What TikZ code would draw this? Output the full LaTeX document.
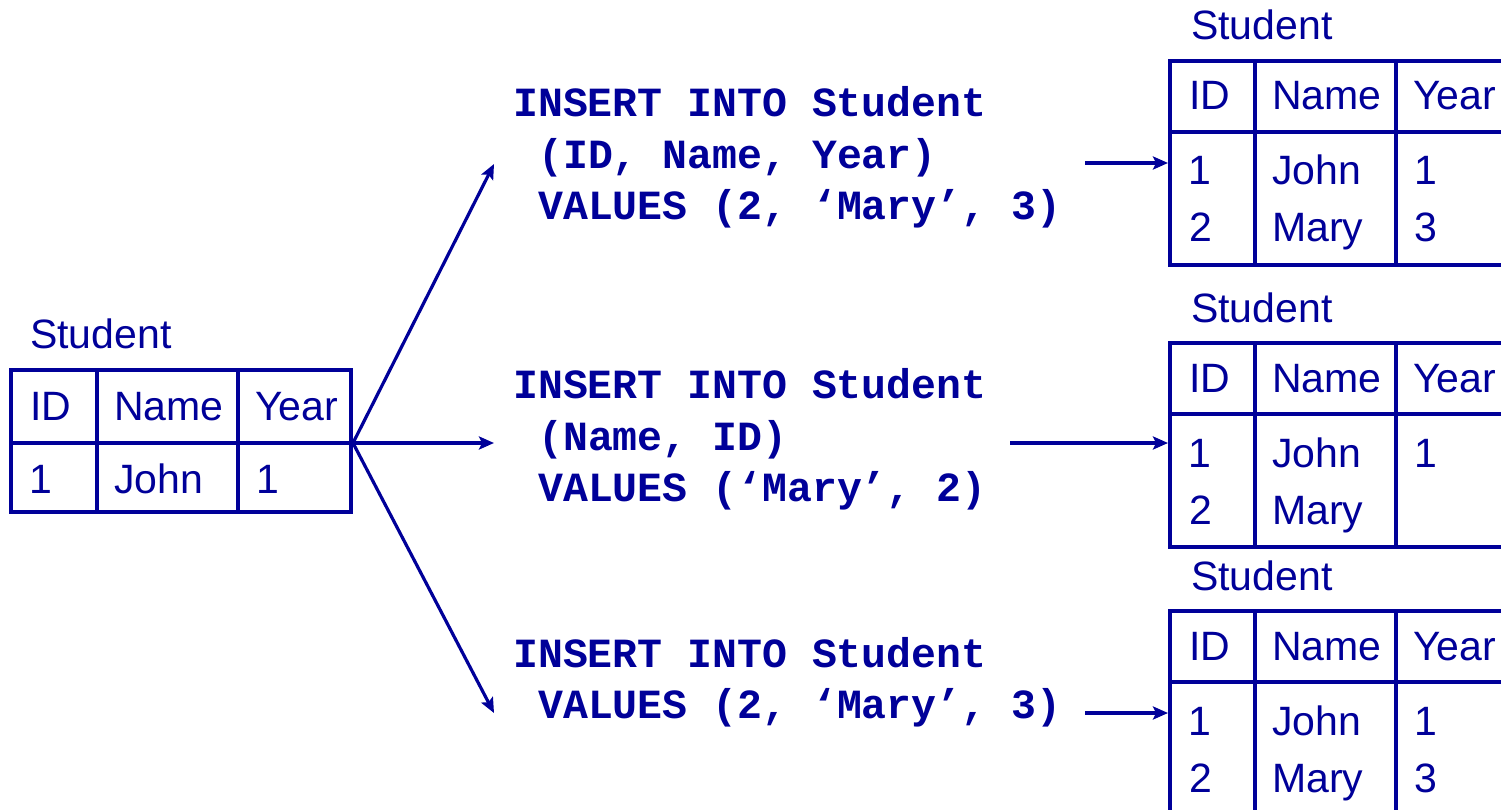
\documentclass[tikz,border=0pt]{standalone}
\usepackage{fontspec}
\usetikzlibrary{arrows.meta}
\newfontfamily\sansf{Liberation Sans}
\newfontfamily\monof{Liberation Mono}
\definecolor{dkblue}{RGB}{0,0,153}
\tikzset{
  tbl/.style={draw=dkblue, line width=4pt, rectangle, inner sep=0pt},
  tline/.style={draw=dkblue, line width=4pt},
  lab/.style={font=\sansf\fontsize{41}{48}\selectfont, text=dkblue, anchor=base west, inner sep=0pt},
  sql/.style={font=\monof\bfseries\fontsize{41.5}{52}\selectfont, text=dkblue, anchor=base west, inner sep=0pt},
  arr/.style={draw=dkblue, line width=3.2pt, -{Stealth[length=15pt,width=13pt,inset=3pt]}},
}
\begin{document}
\begin{tikzpicture}[x=1pt,y=-1pt]
\useasboundingbox[fill=white] (0,0) rectangle (1501,810);
\clip (0,0) rectangle (1501,810);

% ---------- left table ----------
\node[lab] (l0) at (30,348) {Student};
\node[tbl, minimum width=340pt, minimum height=142pt] (t0) at (181,441) {};
\draw[tline] (11,443) -- (351,443);
\draw[tline] (97,370) -- (97,512);
\draw[tline] (238,370) -- (238,512);
\node[lab] (t0h1) at (30,420) {ID};
\node[lab] (t0h2) at (114,420) {Name};
\node[lab] (t0h3) at (255,420) {Year};
\node[lab] (t0r1) at (29,493) {1};
\node[lab] (t0r2) at (114,493) {John};
\node[lab] (t0r3) at (256,493) {1};

% ---------- SQL statements ----------
\node[sql] (s1a) at (513,117) {INSERT INTO Student};
\node[sql] (s1b) at (538,169) {(ID, Name, Year)};
\node[sql] (s1c) at (538,220) {VALUES (2, ‘Mary’, 3)};

\node[sql] (s2a) at (513,398) {INSERT INTO Student};
\node[sql] (s2b) at (538,450) {(Name, ID)};
\node[sql] (s2c) at (538,501) {VALUES (‘Mary’, 2)};

\node[sql] (s3a) at (513,667) {INSERT INTO Student};
\node[sql] (s3b) at (538,718) {VALUES (2, ‘Mary’, 3)};

% ---------- right tables ----------
\foreach \k/\dy in {1/0, 2/282, 3/550} {
  \node[lab] (r\k l) at (1191,40+\dy) {Student};
  \node[tbl, minimum width=345pt, minimum height=204pt] (t\k) at (1342.5,163+\dy) {};
  \draw[tline] (1170,132+\dy) -- (1515,132+\dy);
  \draw[tline] (1255,61+\dy) -- (1255,265+\dy);
  \draw[tline] (1396,61+\dy) -- (1396,265+\dy);
  \node[lab] (t\k h1) at (1189,110+\dy) {ID};
  \node[lab] (t\k h2) at (1272,110+\dy) {Name};
  \node[lab] (t\k h3) at (1413,110+\dy) {Year};
  \node[lab] (t\k a1) at (1188,185+\dy) {1};
  \node[lab] (t\k a2) at (1272,185+\dy) {John};
  \node[lab] (t\k b1) at (1189,242+\dy) {2};
  \node[lab] (t\k b2) at (1272,242+\dy) {Mary};
}
\node[lab] (t1a3) at (1414,185) {1};
\node[lab] (t1b3) at (1414,242) {3};
\node[lab] (t2a3) at (1414,467) {1};
\node[lab] (t3a3) at (1414,735) {1};
\node[lab] (t3b3) at (1414,792) {3};

% ---------- arrows ----------
\coordinate (fan) at (t0.east |- 0,443);
\coordinate (a1) at (494,164);
\coordinate (a2) at (494,443);
\coordinate (a3) at (494,713);
\draw[arr] (fan) -- (a1);
\draw[arr] (fan) -- (a2);
\draw[arr] (fan) -- (a3);

\coordinate (b1) at (1085,163);
\coordinate (b2) at (1010,443);
\coordinate (b3) at (1085,713);
\draw[arr] (b1) -- (b1 -| t1.west);
\draw[arr] (b2) -- (b2 -| t2.west);
\draw[arr] (b3) -- (b3 -| t3.west);
\end{tikzpicture}
\end{document}
